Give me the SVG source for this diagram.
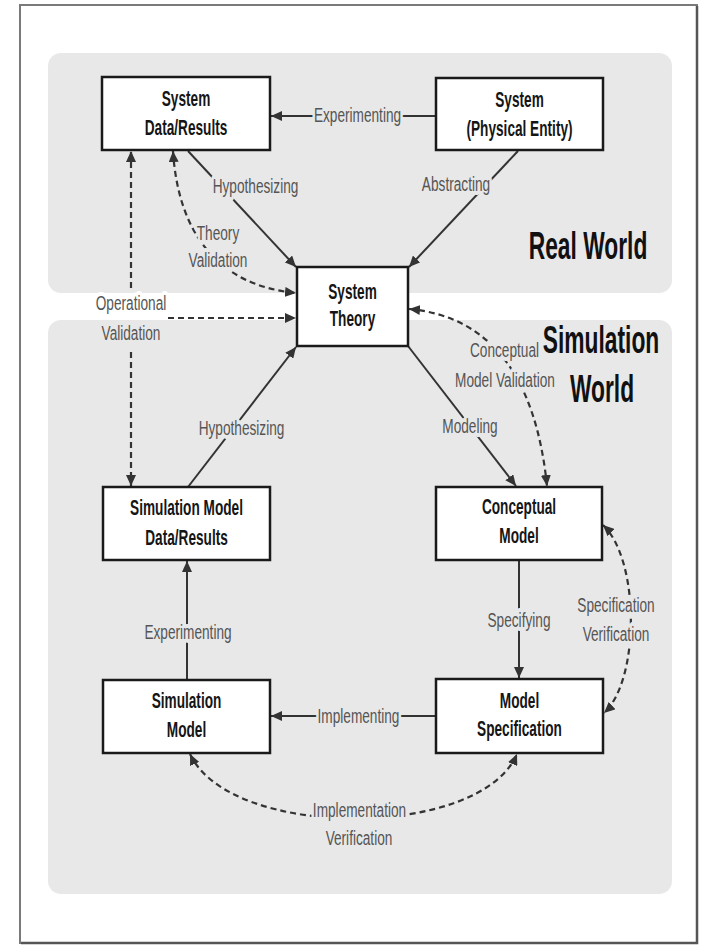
<svg xmlns="http://www.w3.org/2000/svg" width="702" height="946" viewBox="0 0 702 946">
<style>
.frame{fill:#ffffff;stroke:#7a7a7a;stroke-width:2}
.panel{fill:#e8e8e8;stroke:none}
.box{fill:#ffffff;stroke:#1a1a1a;stroke-width:2.5}
.nt{font-family:"Liberation Sans",Arial,sans-serif;font-weight:bold;font-size:22px;fill:#151515;text-anchor:middle}
.lbl{font-family:"Liberation Sans",Arial,sans-serif;font-size:21px;fill:#555555;text-anchor:middle;stroke:#e8e8e8;stroke-width:8;stroke-linejoin:round;paint-order:stroke}
.lblw{stroke:#ffffff}
.big{font-family:"Liberation Sans",Arial,sans-serif;font-weight:bold;font-size:38px;fill:#111111;text-anchor:middle}
.c{fill:none;stroke:#333333;stroke-width:2}
.d{fill:none;stroke:#333333;stroke-width:2.2;stroke-dasharray:6,4}
.a{marker-end:url(#ah)}
.b{marker-start:url(#ah);marker-end:url(#ah)}
</style>
<defs>
<marker id="ah" markerUnits="userSpaceOnUse" markerWidth="12" markerHeight="10" refX="11" refY="5" orient="auto-start-reverse">
<path d="M0,0 L11,5 L0,10 Z" fill="#333333"/>
</marker>
</defs>
<rect class="frame" x="20" y="5" width="677" height="938"/>
<path d="M697,6 L697,943 L21,943" fill="none" stroke="#555555" stroke-width="2.5"/>
<rect class="panel" x="48" y="53" width="624" height="240" rx="13"/>
<rect class="panel" x="48" y="320" width="624" height="574" rx="13"/>
<g id="region-labels">
<text class="big" transform="translate(588,259) scale(0.6,1)">Real World</text>
<text class="big" transform="translate(601,353) scale(0.6,1)">Simulation</text>
<text class="big" transform="translate(602,402) scale(0.6,1)">World</text>
</g>
<g id="connectors">
<path class="c a" d="M436,116 L271,116"/>
<path class="c a" d="M188,151 L296,267"/>
<path class="c a" d="M518,151 L409,267"/>
<path class="d b" d="M173,151 C178,230 215,285 296,293"/>
<path class="d a" d="M131,288 L131,151"/>
<path class="d a" d="M131,352 L131,486"/>
<path class="d a" d="M168,318 L296,318"/>
<path class="c a" d="M188,487 L296,347"/>
<path class="c a" d="M408,346 L516,486"/>
<path class="d b" d="M409,309 Q530,320 547,486"/>
<path class="c a" d="M519,560 L519,678"/>
<path class="d b" d="M603,525 C640,560 640,680 604,713"/>
<path class="c a" d="M436,716 L271,716"/>
<path class="c a" d="M187,680 L187,561"/>
<path class="d b" d="M190,754 C230,840 480,840 517,754"/>
<text class="lbl" transform="translate(357.5,122) scale(0.65,1)">Experimenting</text>
<text class="lbl" transform="translate(255.5,193) scale(0.65,1)">Hypothesizing</text>
<text class="lbl" transform="translate(456,191) scale(0.65,1)">Abstracting</text>
<text class="lbl" transform="translate(218,240) scale(0.65,1)">Theory</text>
<text class="lbl" transform="translate(218,267) scale(0.65,1)">Validation</text>
<text class="lbl lblw" transform="translate(131,310) scale(0.65,1)">Operational</text>
<text class="lbl" transform="translate(131,340) scale(0.65,1)">Validation</text>
<text class="lbl" transform="translate(241.5,435) scale(0.65,1)">Hypothesizing</text>
<text class="lbl" transform="translate(470,433) scale(0.65,1)">Modeling</text>
<text class="lbl" transform="translate(504.5,357) scale(0.65,1)">Conceptual</text>
<text class="lbl" transform="translate(505,387) scale(0.65,1)">Model Validation</text>
<text class="lbl" transform="translate(519,627) scale(0.65,1)">Specifying</text>
<text class="lbl" transform="translate(616,612) scale(0.65,1)">Specification</text>
<text class="lbl" transform="translate(616,641) scale(0.65,1)">Verification</text>
<text class="lbl" transform="translate(358.5,723) scale(0.65,1)">Implementing</text>
<text class="lbl" transform="translate(188,639) scale(0.65,1)">Experimenting</text>
<text class="lbl" transform="translate(359.5,817) scale(0.65,1)">Implementation</text>
<text class="lbl" transform="translate(359,845) scale(0.65,1)">Verification</text>
</g>
<g id="system-data-results">
<rect class="box" x="102" y="77" width="168" height="73"/>
<text class="nt" transform="translate(186,106) scale(0.62,1)">System</text>
<text class="nt" transform="translate(186,135) scale(0.62,1)">Data/Results</text>
</g>
<g id="system-physical-entity">
<rect class="box" x="436" y="78" width="167" height="72"/>
<text class="nt" transform="translate(519.5,107) scale(0.62,1)">System</text>
<text class="nt" transform="translate(519.5,136) scale(0.62,1)">(Physical Entity)</text>
</g>
<g id="system-theory">
<rect class="box" x="297" y="267" width="111" height="79"/>
<text class="nt" transform="translate(352.5,299) scale(0.62,1)">System</text>
<text class="nt" transform="translate(352.5,326) scale(0.62,1)">Theory</text>
</g>
<g id="simulation-model-data-results">
<rect class="box" x="103" y="487" width="167" height="73"/>
<text class="nt" transform="translate(186.5,515) scale(0.62,1)">Simulation Model</text>
<text class="nt" transform="translate(186.5,545) scale(0.62,1)">Data/Results</text>
</g>
<g id="conceptual-model">
<rect class="box" x="436" y="487" width="166" height="73"/>
<text class="nt" transform="translate(519,514) scale(0.62,1)">Conceptual</text>
<text class="nt" transform="translate(519,543) scale(0.62,1)">Model</text>
</g>
<g id="simulation-model">
<rect class="box" x="103" y="680" width="167" height="73"/>
<text class="nt" transform="translate(186.5,708) scale(0.62,1)">Simulation</text>
<text class="nt" transform="translate(186.5,737) scale(0.62,1)">Model</text>
</g>
<g id="model-specification">
<rect class="box" x="436" y="679" width="167" height="74"/>
<text class="nt" transform="translate(519.5,708) scale(0.62,1)">Model</text>
<text class="nt" transform="translate(519.5,736) scale(0.62,1)">Specification</text>
</g>
</svg>
